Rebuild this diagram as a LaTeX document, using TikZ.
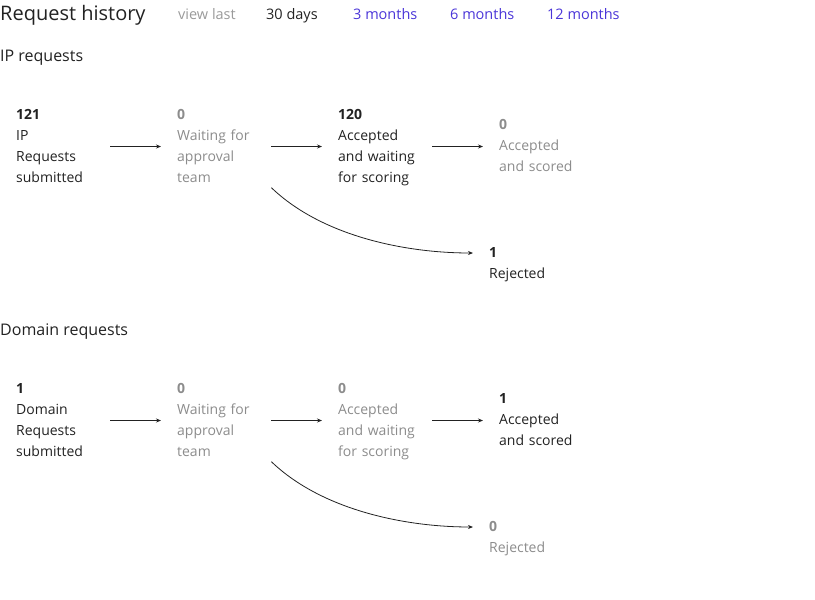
\documentclass[tikz,border=0pt]{standalone}
\usepackage{fontspec}
\setmainfont{Open Sans}
\usepackage{tikz}
\usetikzlibrary{arrows.meta}
\definecolor{ink}{HTML}{222222}
\definecolor{muted}{HTML}{8C8C8C}
\definecolor{faint}{HTML}{9A9A9A}
\definecolor{linkblue}{HTML}{4A35D8}
\newcommand{\stagetext}[2]{\strut\textbf{#1}\\#2\strut}

\begin{document}
\begin{tikzpicture}[x=1pt,y=-1pt,
  stage/.style={anchor=west,align=left,text width=94pt,inner sep=0pt,font=\fontsize{14}{21}\selectfont,text=ink},
  idle/.style={stage,text=muted},
  flow/.style={draw=ink,line width=0.8pt,-{Stealth[length=5pt,width=4pt]},shorten >=16pt},
  menu/.style={anchor=base west,inner sep=0pt,font=\fontsize{14.5}{17}\selectfont},
  heading/.style={anchor=base west,inner sep=0pt,text=ink,font=\fontsize{16}{19}\selectfont}]
\useasboundingbox (0,0) rectangle (815,600);

\node[anchor=base west,inner sep=0pt,text=ink,font=\fontsize{20}{24}\selectfont] (title) at (0,20) {Request history};
\node[menu,text=faint] (viewlast) at (178,19) {view last};
\node[menu,text=ink] (days30) at (266,19) {30 days};
\node[menu,text=linkblue] (months3) at (353,19) {3 months};
\node[menu,text=linkblue] (months6) at (450,19) {6 months};
\node[menu,text=linkblue] (months12) at (547,19) {12 months};

\node[heading] (iphead) at (0,61) {IP requests};
\node[stage] (ipsub) at (16,146.5) {\stagetext{121}{IP\\Requests\\submitted}};
\node[idle] (ipwait) at (177,146.5) {\stagetext{0}{Waiting for\\approval\\team}};
\node[stage] (ipacc) at (338,146.5) {\stagetext{120}{Accepted\\and waiting\\for scoring}};
\node[idle] (ipscored) at (499,146) {\stagetext{0}{Accepted\\and scored}};
\node[stage] (iprej) at (489,263.5) {\stagetext{1}{Rejected}};
\draw[flow] (ipsub.east) -- (ipwait.west);
\draw[flow] (ipwait.east) -- (ipacc.west);
\draw[flow] (ipacc.east) -- (ipacc.east -| ipscored.west);
\draw[flow] ([yshift=1pt]ipwait.south east) .. controls +(50,48) and +(-85,0) .. ([yshift=10.5pt]iprej.west);

\node[heading] (domhead) at (0,335) {Domain requests};
\node[stage] (domsub) at (16,420.5) {\stagetext{1}{Domain\\Requests\\submitted}};
\node[idle] (domwait) at (177,420.5) {\stagetext{0}{Waiting for\\approval\\team}};
\node[idle] (domacc) at (338,420.5) {\stagetext{0}{Accepted\\and waiting\\for scoring}};
\node[stage] (domscored) at (499,420) {\stagetext{1}{Accepted\\and scored}};
\node[idle] (domrej) at (489,537.5) {\stagetext{0}{Rejected}};
\draw[flow] (domsub.east) -- (domwait.west);
\draw[flow] (domwait.east) -- (domacc.west);
\draw[flow] (domacc.east) -- (domacc.east -| domscored.west);
\draw[flow] ([yshift=1pt]domwait.south east) .. controls +(50,48) and +(-85,0) .. ([yshift=10.5pt]domrej.west);
\end{tikzpicture}
\end{document}
